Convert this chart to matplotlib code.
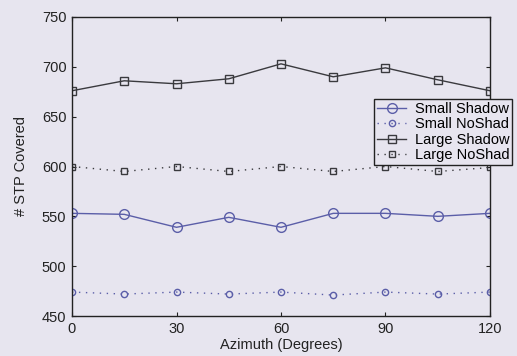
import matplotlib
matplotlib.use("Agg")
import matplotlib.pyplot as plt

azimuth = [0, 15, 30, 45, 60, 75, 90, 105, 120]
small_shadow = [553, 552, 539, 549, 539, 553, 553, 550, 553]
small_noshad = [474, 472, 474, 472, 474, 471, 474, 472, 474]
large_shadow = [676, 686, 683, 688, 703, 690, 699, 687, 676]
large_noshad = [600, 595, 600, 595, 600, 595, 600, 595, 599]

x_ticks = [0, 30, 60, 90, 120]
y_ticks = [450, 500, 550, 600, 650, 700, 750]

plt.rcParams['font.family'] = ['Liberation Sans', 'DejaVu Sans']
bg = '#e7e5ef'
blue = '#5b5ea8'
dark = '#3a3a3e'
dotted = (0, (1, 4))

fig = plt.figure(figsize=(5.17, 3.56), dpi=100, facecolor=bg)
ax = fig.add_axes([72/517, 1-316/356, (490-72)/517, (316-17)/356])
ax.set_facecolor(bg)

ax.plot(azimuth, small_shadow, '-', color=blue, lw=1.0, marker='o', ms=7,
        mfc='none', mec=blue, mew=1.0, label='Small Shadow')
ax.plot(azimuth, small_noshad, linestyle=dotted, color=blue, lw=1.0, marker='o',
        ms=4.5, mfc='none', mec=blue, mew=1.0, label='Small NoShad')
ax.plot(azimuth, large_shadow, '-', color=dark, lw=1.0, marker='s', ms=6,
        mfc='none', mec=dark, mew=1.0, label='Large Shadow')
ax.plot(azimuth, large_noshad, linestyle=dotted, color=dark, lw=1.0, marker='s',
        ms=3.8, mfc='none', mec=dark, mew=1.0, label='Large NoShad')

ax.set_xlim(0, 120)
ax.set_ylim(450, 750)
ax.set_xticks(x_ticks)
ax.set_yticks(y_ticks)
ax.tick_params(direction='in', top=True, right=True, length=3, labelsize=10.5,
               colors='#222222', pad=4)
for s in ax.spines.values():
    s.set_color('#222222')
    s.set_linewidth(1.0)

ax.set_xlabel('Azimuth (Degrees)', fontsize=10.5, labelpad=2, color='#222222')
ax.set_ylabel('# STP Covered', fontsize=10.5, labelpad=10, color='#222222')

leg = fig.legend(loc='upper left', bbox_to_anchor=(374/517, 1-99/356),
                 fontsize=10.5, frameon=True, fancybox=False, borderpad=0.2,
                 labelspacing=0.1, handlelength=2.0, handletextpad=0.6,
                 borderaxespad=0)
leg.get_frame().set_edgecolor('#222222')
leg.get_frame().set_facecolor(bg)
leg.get_frame().set_alpha(1)
leg.get_frame().set_linewidth(1.0)

fig.savefig('out.png', dpi=100, facecolor=bg)
